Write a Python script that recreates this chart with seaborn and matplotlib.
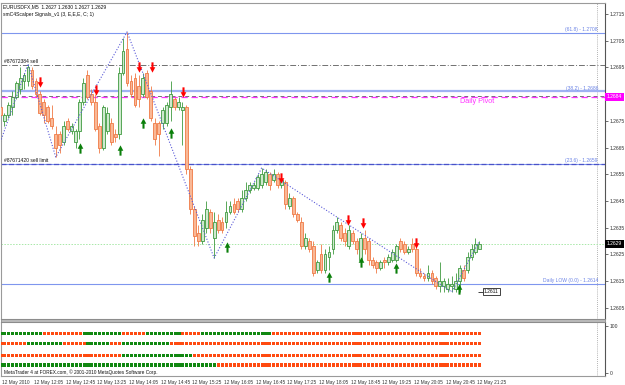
import numpy as np
import pandas as pd
import matplotlib
matplotlib.use("Agg")
import matplotlib.pyplot as plt
from matplotlib.path import Path
from matplotlib.patches import Rectangle
import matplotlib.transforms as mtransforms
import seaborn as sns

sns.set_style("white")
plt.rcParams['font.family'] = ['Liberation Sans', 'DejaVu Sans']

# ---------------- data ----------------
open_ = [1.2680,1.2675,1.2677,1.2680,1.2684,1.2687,1.2690,1.2690,1.2694,1.2690,
         1.2685,1.2682,1.2680,1.2676,1.2670,1.2670,1.2667,1.2675,1.2671,1.2667,
         1.2671,1.2682,1.2692,1.2685,1.2682,1.2673,1.2665,1.2671,1.2674,1.2670,
         1.2670,1.2693,1.2702,1.2690,1.2691,1.2688,1.2685,1.2693,1.2686,1.2674,
         1.2674,1.2674,1.2674,1.2680,1.2683,1.2680,1.2679,1.2680,1.2657,1.2642,
         1.2633,1.2630,1.2635,1.2641,1.2631,1.2638,1.2637,1.2637,1.2641,1.2644,
         1.2645,1.2642,1.2646,1.2649,1.2650,1.2650,1.2651,1.2652,1.2655,1.2653,
         1.2655,1.2651,1.2652,1.2643,1.2646,1.2640,1.2637,1.2628,1.2630,1.2628,
         1.2619,1.2625,1.2619,1.2624,1.2627,1.2634,1.2636,1.2633,1.2628,1.2633,
         1.2630,1.2623,1.2631,1.2630,1.2623,1.2622,1.2620,1.2623,1.2622,1.2623,
         1.2623,1.2630,1.2629,1.2626,1.2629,1.2627,1.2618,1.2617,1.2616,1.2618,
         1.2616,1.2613,1.2613,1.2612,1.2613,1.2612,1.2615,1.2619,1.2619,1.2624,
         1.2626,1.2627]
high = [1.2682,1.2678,1.2682,1.2686,1.2690,1.2695,1.2693,1.26963,1.2695,1.2691,
        1.2686,1.2683,1.2681,1.2681,1.2673,1.2671,1.2675,1.2676,1.2674,1.2672,
        1.2683,1.2691,1.2694,1.2687,1.2685,1.2674,1.2681,1.2680,1.2676,1.2672,
        1.2695,1.2706,1.27083,1.2692,1.2693,1.2692,1.2693,1.2694,1.2688,1.2676,
        1.2675,1.2680,1.2682,1.2690,1.2684,1.2684,1.2682,1.2681,1.2658,1.2643,
        1.2636,1.2640,1.2645,1.2642,1.2641,1.2640,1.2639,1.2645,1.2645,1.2646,
        1.2646,1.2649,1.2652,1.2652,1.2652,1.2655,1.26573,1.2657,1.2656,1.2657,
        1.2656,1.2654,1.2653,1.2648,1.2647,1.2641,1.2639,1.2633,1.2631,1.2630,
        1.2623,1.2629,1.2627,1.2628,1.2636,1.2639,1.2637,1.2635,1.2636,1.2634,
        1.2631,1.2633,1.2634,1.2631,1.2624,1.2623,1.2623,1.2624,1.2625,1.2627,
        1.2629,1.2631,1.2630,1.2628,1.2631,1.2629,1.2620,1.2618,1.2621,1.2619,
        1.2617,1.2622,1.2616,1.2616,1.2617,1.2618,1.2621,1.2621,1.2626,1.2629,
        1.2631,1.2630]
low = [1.2675,1.2673,1.2676,1.2677,1.2683,1.2685,1.2687,1.2688,1.2687,1.2684,
       1.2677,1.2674,1.2674,1.2672,1.26614,1.2663,1.2666,1.2671,1.2670,1.2665,
       1.2668,1.2681,1.2683,1.2681,1.2671,1.2663,1.2664,1.2670,1.2666,1.2667,
       1.2668,1.2692,1.2688,1.2684,1.2680,1.2680,1.2684,1.2683,1.2675,1.2666,
       1.2662,1.2672,1.2673,1.2675,1.2679,1.2679,1.2666,1.2655,1.2640,1.2628,
       1.2628,1.2629,1.2633,1.2633,1.26236,1.2633,1.2633,1.2635,1.2640,1.2640,
       1.2641,1.2641,1.2645,1.2648,1.2649,1.2649,1.2650,1.2651,1.2649,1.2652,
       1.2650,1.2650,1.2642,1.2642,1.2639,1.2637,1.2627,1.2627,1.2626,1.2617,
       1.2618,1.2618,1.2618,1.2619,1.2625,1.2633,1.2630,1.2628,1.2627,1.2629,
       1.2625,1.2622,1.2625,1.2621,1.2620,1.2618,1.2619,1.2620,1.2621,1.2622,
       1.2622,1.2626,1.2625,1.2625,1.2626,1.2617,1.2616,1.2615,1.2615,1.2614,
       1.2612,1.2611,1.2611,1.2611,1.26109,1.2611,1.2611,1.2615,1.2618,1.2623,
       1.2625,1.2627]
close = [1.2677,1.2677,1.2681,1.2684,1.2689,1.2691,1.2692,1.2695,1.2688,1.2685,
         1.2678,1.2677,1.2675,1.2673,1.2665,1.2666,1.2673,1.2672,1.2673,1.2671,
         1.2682,1.2689,1.2684,1.2682,1.2672,1.2665,1.2680,1.2678,1.2667,1.2669,
         1.2693,1.2701,1.2689,1.2685,1.2681,1.2683,1.2691,1.2684,1.2676,1.2668,
         1.2670,1.2679,1.2681,1.2685,1.2680,1.2682,1.2680,1.2657,1.2642,1.2632,
         1.2630,1.2638,1.2642,1.2635,1.2637,1.2634,1.2634,1.2641,1.2643,1.2641,
         1.2642,1.2646,1.2649,1.2651,1.2651,1.2654,1.2655,1.2656,1.2651,1.2655,
         1.2651,1.2653,1.2644,1.2646,1.2640,1.2638,1.2628,1.2631,1.2627,1.2618,
         1.2622,1.2619,1.2625,1.2626,1.2634,1.2637,1.2631,1.2630,1.2634,1.2630,
         1.2627,1.2631,1.2627,1.2623,1.2621,1.2620,1.2622,1.2622,1.2624,1.2626,
         1.2628,1.2627,1.2626,1.2627,1.2627,1.2618,1.2617,1.2616,1.2618,1.2615,
         1.2613,1.2615,1.2615,1.2614,1.2614,1.2615,1.2620,1.2616,1.2624,1.2627,
         1.2629,1.2629]

zigzag_bar = [0, 7, 14, 32, 54, 66, 114, 121]
zigzag_price = [1.2667, 1.26963, 1.26614, 1.27083, 1.26236, 1.26573, 1.26109, 1.2630]

sell_bar = [10, 24.2, 35, 38.3, 46.1, 71, 87.8, 91.6, 105]
sell_price = [1.26895, 1.26865, 1.26951, 1.26951, 1.26858, 1.26536, 1.26378, 1.26367, 1.26292]
buy_bar = [20.1, 30.2, 36, 43.1, 57.3, 83, 91.1, 99.9, 115.8]
buy_price = [1.26648, 1.26641, 1.26742, 1.26704, 1.26277, 1.26165, 1.26221, 1.26199, 1.2612]

fib_levels = [1.2708, 1.2686, 1.2659, 1.2614]
fib_labels = ["(61.8) - 1.2708", "(38.2) - 1.2686", "(23.6) - 1.2659", "Daily LOW (0.0) - 1.2614"]
order_sell_price = 1.26959
order_limit_price = 1.2659
pivot_price = 1.2684
bid_price = 1.2629
low_mark_price = 1.2611

time_labels = ["12 May 2010", "12 May 12:05", "12 May 12:45", "12 May 13:25", "12 May 14:05",
               "12 May 14:45", "12 May 15:25", "12 May 16:05", "12 May 16:45", "12 May 17:25",
               "12 May 18:05", "12 May 18:45", "12 May 19:25", "12 May 20:05", "12 May 20:45",
               "12 May 21:25"]
price_ticks = [1.2605, 1.2615, 1.2625, 1.2635, 1.2645, 1.2655, 1.2665, 1.2675,
               1.2685, 1.2695, 1.2705, 1.2715]
hidden_tick = 1.2685  # covered by the pivot price box

row_levels = [85, 62, 38, 17]
row1 = list("g" * 11 + "r" * 10 + "g" * 10 + "r" * 6 + "g" * 9 + "r" * 5 + "g" * 18 + "r" * 53)
row2 = list("r" * 7 + "g" * 9 + "r" * 6 + "g" * 6 + "r" * 3 + "g" * 12 + "r" * 79)
row3 = list("r" * 31 + "g" * 18 + "r" * 73)
row4 = list("g" * 55 + "r" * 67)

# ---------------- figure ----------------
W, H = 625, 385
fig = plt.figure(figsize=(6.25, 3.85), dpi=100)
fig.patch.set_facecolor("white")

def fx(px):
    return px / W

def fy(py):
    return 1 - py / H

ax = fig.add_axes([fx(1), fy(319), fx(604), (319 - 3) / H])
axi = fig.add_axes([fx(1), fy(376), fx(604), (376 - 322) / H])

PX0, PXB = 0.3, 3.96
xlim = ((1 - PX0) / PXB, (605 - PX0) / PXB)
ylim = (1.2715 - (319 - 14) / 26700, 1.2715 + (14 - 3) / 26700)

bars = np.arange(len(close))
o = np.array(open_); c = np.array(close); h = np.array(high); l = np.array(low)
bull = c >= o

bull_edge, bull_face = "#3f9a3f", "#cfe9cf"
bear_edge, bear_face = "#f07a45", "#f9b896"

for is_bull, ec, fc in [(True, bull_edge, bull_face), (False, bear_edge, bear_face)]:
    m = bull == is_bull
    ax.vlines(bars[m], l[m], h[m], color=ec, lw=0.6, zorder=3)
    bottom = np.minimum(o[m], c[m])
    height = np.maximum(np.abs(c[m] - o[m]), 0.00002)
    ax.bar(bars[m], height, bottom=bottom, width=0.72, color=fc, edgecolor=ec,
           linewidth=0.6, zorder=4)

# horizontal lines
ax.axhline(fib_levels[0], color="#7f96ee", lw=0.8, zorder=2)
ax.axhline(fib_levels[1], color="#9fb2f2", lw=1.6, zorder=2)
ax.axhline(fib_levels[2], color="#7f96ee", lw=0.8, zorder=2)
ax.axhline(fib_levels[3], color="#7f96ee", lw=0.8, zorder=2)
ax.axhline(order_sell_price, color="#707070", lw=0.7, ls=(0, (6, 2, 1, 2)), zorder=2)
ax.axhline(order_limit_price, color="#4a52c8", lw=0.9, ls=(0, (4, 2)), zorder=2)
ax.axhline(pivot_price + 0.00003, color="#707070", lw=0.7, ls=(0, (4, 3)), zorder=2)
ax.axhline(pivot_price, color="#ff33ff", lw=0.9, ls=(0, (5, 3)), zorder=2)
ax.axhline(bid_price, color="#a8e8a8", lw=0.7, ls=(0, (1.5, 1.5)), zorder=2)

# zigzag
sns.lineplot(x=zigzag_bar, y=zigzag_price, ax=ax, color="#5a5ad8", lw=0.8,
             linestyle=(0, (1, 1.6)), zorder=5)

# arrows
down_path = Path([(-0.2, 1), (0.2, 1), (0.2, 0.05), (0.55, 0.05), (0, -1),
                  (-0.55, 0.05), (-0.2, 0.05), (-0.2, 1)], closed=True)
up_path = Path([(-0.2, -1), (0.2, -1), (0.2, -0.05), (0.55, -0.05), (0, 1),
                (-0.55, -0.05), (-0.2, -0.05), (-0.2, -1)], closed=True)
sns.scatterplot(x=sell_bar, y=sell_price, ax=ax, marker=down_path, s=55,
                color="#ff0000", linewidth=0, zorder=6)
sns.scatterplot(x=buy_bar, y=buy_price, ax=ax, marker=up_path, s=55,
                color="#0a7f0a", linewidth=0, zorder=6)

ax.set_xlim(*xlim)
ax.set_ylim(*ylim)
ax.set_xlabel(""); ax.set_ylabel("")
ax.set_xticks([])
ax.yaxis.tick_right()
ax.set_yticks(price_ticks)
ax.set_yticklabels(["" if abs(v - hidden_tick) < 1e-9 else f"{v:.4f}" for v in price_ticks])
ax.tick_params(axis="y", labelsize=3.6, length=2, width=0.5, pad=1.5, colors="#333333")
for s in ["top", "left", "bottom"]:
    ax.spines[s].set_color("#9a9a9a"); ax.spines[s].set_linewidth(0.8)
ax.spines["right"].set_color("#555555"); ax.spines["right"].set_linewidth(0.8)

# chart shift marker
for a in (ax, axi):
    a.axvline((597 - PX0) / PXB, color="#9a9a9a", lw=0.6, ls=(0, (1, 1.5)), zorder=1)

# texts in price panel
tfs = 3.6
ax.text(xlim[0] + 0.5, ylim[1] - 0.00004, "EURUSDFX,M5  1.2627 1.2630 1.2627 1.2629",
        fontsize=tfs, va="top", ha="left", color="#111111")
ax.text(xlim[0] + 0.5, ylim[1] - 0.00034, "smC4Scalper Signals_v1 (3, E,E,E, C; 1)",
        fontsize=tfs, va="top", ha="left", color="#111111")
ax.text(1.0, order_sell_price + 0.00002, "#87672384 sell", fontsize=tfs, va="bottom",
        ha="left", color="#111111")
ax.text(1.0, order_limit_price + 0.00002, "#87671420 sell limit", fontsize=tfs,
        va="bottom", ha="left", color="#111111")
xr = (598 - PX0) / PXB
for lev, lab in zip(fib_levels, fib_labels):
    ax.text(xr, lev + 0.00002, lab, fontsize=tfs, va="bottom", ha="right", color="#6c84e6")
ax.text((460 - PX0) / PXB, pivot_price - 0.00005, "Daily Pivot", fontsize=5.2,
        va="top", ha="left", color="#ff33ff")

# low label box
ax.hlines(low_mark_price, (478 - PX0) / PXB, (483 - PX0) / PXB, color="#222222", lw=0.6)
ax.text((484 - PX0) / PXB, low_mark_price, "1.2611", fontsize=tfs, va="center", ha="left",
        color="#111111", bbox=dict(boxstyle="square,pad=0.25", fc="white", ec="#222222", lw=0.6))

# axis price boxes
trans = mtransforms.blended_transform_factory(ax.transAxes, ax.transData)
ax.text(1.003, pivot_price, "1.2684", transform=trans, fontsize=tfs, va="center", ha="left",
        color="white", clip_on=False, zorder=10,
        bbox=dict(boxstyle="square,pad=0.3", fc="#ff00ff", ec="#ff00ff", lw=0))
ax.text(1.003, bid_price, "1.2629", transform=trans, fontsize=tfs, va="center", ha="left",
        color="white", clip_on=False, zorder=10,
        bbox=dict(boxstyle="square,pad=0.3", fc="#000000", ec="#000000", lw=0))

# ---------------- indicator panel ----------------
rows = [row1, row2, row3, row4]
recs = []
for lev, row in zip(row_levels, rows):
    for i, v in enumerate(row):
        recs.append({"bar": i, "level": lev, "sig": v})
ind = pd.DataFrame(recs)
sns.scatterplot(data=ind, x="bar", y="level", hue="sig", palette={"g": "#118811", "r": "#ff4a10"},
                marker="s", s=4.8, linewidth=0, legend=False, ax=axi, zorder=3)

axi.set_xlim(*xlim)
axi.set_ylim(-6.4, 108.5)
axi.set_xlabel(""); axi.set_ylabel("")
axi.yaxis.tick_right()
axi.set_yticks([0, 100])
axi.set_yticklabels(["0", "100"])
axi.tick_params(axis="y", labelsize=3.6, length=2, width=0.5, pad=1.5, colors="#333333")
tick_bars = list(range(0, 8 * len(time_labels), 8))
axi.set_xticks(tick_bars)
axi.set_xticklabels(time_labels, ha="left")
axi.tick_params(axis="x", labelsize=3.4, length=2, width=0.5, pad=1, colors="#333333")
for lab in axi.get_xticklabels():
    lab.set_transform(lab.get_transform() + mtransforms.ScaledTranslation(1.5 / 100, 0, fig.dpi_scale_trans))
for s in ["top", "left", "bottom"]:
    axi.spines[s].set_color("#9a9a9a"); axi.spines[s].set_linewidth(0.8)
axi.spines["right"].set_color("#555555"); axi.spines["right"].set_linewidth(0.8)
axi.text(xlim[0] + 0.5, 1, "MetaTrader 4 at FOREX.com, \u00a9 2001-2010 MetaQuotes Software Corp.",
         fontsize=3.4, va="center", ha="left", color="#111111")

# panel separator
fig.add_artist(Rectangle((fx(1), fy(322)), fx(604), 3 / H, transform=fig.transFigure,
                         facecolor="#b8b8b8", edgecolor="#808080", lw=0.5))

fig.savefig("out.png", dpi=100, facecolor="white")
